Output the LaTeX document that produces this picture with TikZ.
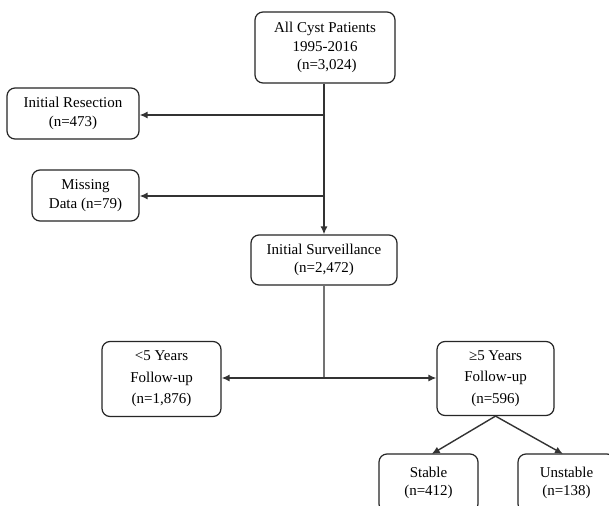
\documentclass[tikz,border=0pt]{standalone}
\usepackage{fontspec}
\setmainfont{Liberation Serif}
\usetikzlibrary{arrows.meta}
\begin{document}
\begin{tikzpicture}[x=1pt,y=-1pt,
  box/.style={draw=black!85,line width=1.2pt,rounded corners=8pt,align=center,inner sep=0pt,
    font=\fontsize{15}{18.5}\selectfont},
  tallbox/.style={box,font=\fontsize{15}{21.5}\selectfont},
  conn/.style={draw=black!80,line width=1.4pt},
  arr/.style={conn,-{Latex[length=8pt,width=7pt]}}]
\clip (0,0) rectangle (609,505);
\fill[white] (0,0) rectangle (609,505);
\node[box,minimum width=140pt,minimum height=71pt] (top) at (325,47.5) {All Cyst Patients\\1995-2016\\~(n=3,024)};
\node[box,minimum width=132pt,minimum height=51pt] (res) at (73,113.5) {Initial Resection\\(n=473)};
\node[box,minimum width=107pt,minimum height=51pt] (miss) at (85.5,195.5) {Missing\\Data (n=79)};
\node[box,minimum width=146pt,minimum height=50pt] (surv) at (324,260) {Initial Surveillance\\(n=2,472)};
\node[tallbox,minimum width=119pt,minimum height=75pt] (lt) at (161.5,379) {<5 Years\\Follow-up\\(n=1,876)};
\node[tallbox,minimum width=117pt,minimum height=74pt] (ge) at (495.5,378.5) {≥5 Years\\Follow-up\\(n=596)};
\node[box,minimum width=99pt,minimum height=58pt] (st) at (428.5,483) {Stable\\(n=412)};
\node[box,minimum width=97pt,minimum height=58pt] (un) at (566.5,483) {Unstable\\(n=138)};
\coordinate (j1) at (325,115);
\coordinate (j2) at (325,196);
\coordinate (j3) at (324,378);
\draw[arr] (top.south -| surv.north) -- (surv.north);
\draw[arr] (j1) -- (j1 -| res.east);
\draw[arr] (j2) -- (j2 -| miss.east);
\draw[conn,draw=black!55] (surv.south) -- (j3);
\draw[arr] (j3) -- (j3 -| lt.east);
\draw[arr] (j3) -- (j3 -| ge.west);
\draw[arr] (ge.south) -- (431.7,454);
\draw[arr] (ge.south) -- (563,454);
\end{tikzpicture}
\end{document}
